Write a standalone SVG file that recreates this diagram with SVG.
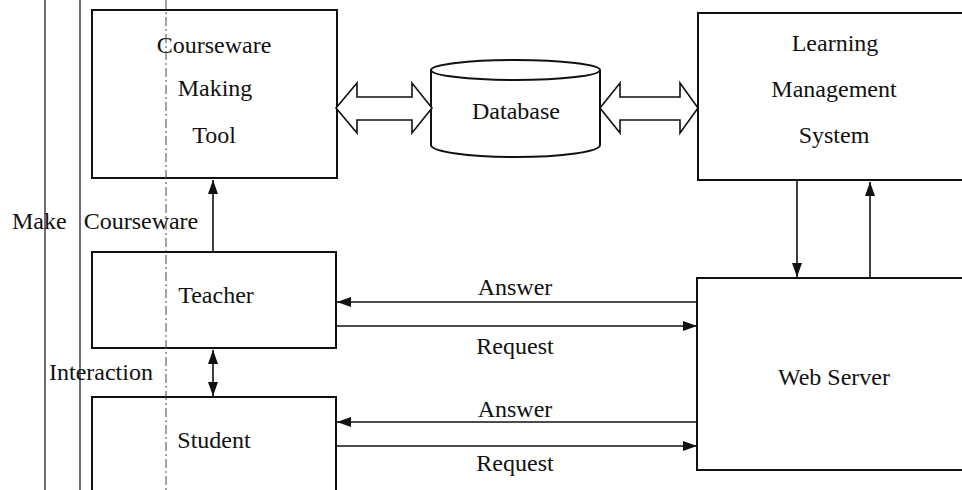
<svg xmlns="http://www.w3.org/2000/svg" width="962" height="490" viewBox="0 0 962 490">
<style>
  .box { fill: #fff; stroke: #111; stroke-width: 2; }
  .lbl { font-family: "Liberation Serif", "Times New Roman", serif; font-size: 24px; fill: #111; text-anchor: middle; }
  .lft { text-anchor: start; }
  .conn { stroke: #111; stroke-width: 1.6; fill: none; }
  .hollow { fill: #fff; stroke: #111; stroke-width: 1.6; stroke-linejoin: miter; }
  .scan { stroke: #222; stroke-width: 1.3; fill: none; }
  .dash { stroke: #444; stroke-width: 1; stroke-dasharray: 9 3 2 3; fill: none; }
</style>
<defs>
  <marker id="ah" markerUnits="userSpaceOnUse" markerWidth="16" markerHeight="12" refX="14" refY="5" orient="auto-start-reverse">
    <path d="M0,0 L14,5 L0,10 z" fill="#111"/>
  </marker>
</defs>
<rect width="962" height="490" fill="#fff"/>

<g id="page-lines">
  <line class="scan" x1="45" y1="0" x2="45" y2="490"/>
  <line class="scan" x1="80" y1="0" x2="80" y2="490"/>
</g>

<g id="courseware-tool">
  <rect class="box" x="92" y="10" width="245" height="168"/>
  <text class="lbl" x="214" y="53">Courseware</text>
  <text class="lbl" x="215" y="96">Making</text>
  <text class="lbl" x="214" y="143">Tool</text>
</g>

<g id="database">
  <path class="box" d="M431,70 L431,145 A84.5,12 0 0 0 600,145 L600,70"/>
  <ellipse class="box" cx="515.5" cy="70" rx="84.5" ry="10"/>
  <text class="lbl" x="516" y="119">Database</text>
</g>

<g id="lms">
  <rect class="box" x="698" y="13" width="280" height="167"/>
  <text class="lbl" x="835" y="51">Learning</text>
  <text class="lbl" x="834" y="97">Management</text>
  <text class="lbl" x="834" y="143">System</text>
</g>

<g id="teacher">
  <rect class="box" x="92" y="252" width="244" height="96"/>
  <text class="lbl" x="216" y="303">Teacher</text>
</g>

<g id="student">
  <rect class="box" x="92" y="397" width="244" height="110"/>
  <text class="lbl" x="214" y="448">Student</text>
</g>

<g id="web-server">
  <rect class="box" x="697" y="278" width="280" height="192"/>
  <text class="lbl" x="834" y="385">Web Server</text>
</g>

<g id="connectors">
  <path class="hollow" d="M336,108 L357,83 L357,97 L412,97 L412,83 L432,108 L412,133 L412,120 L357,120 L357,133 Z"/>
  <path class="hollow" d="M600,108 L620,83 L620,97 L680,97 L680,83 L698,108 L680,133 L680,120 L620,120 L620,133 Z"/>
  <line class="conn" x1="797" y1="180" x2="797" y2="277" marker-end="url(#ah)"/>
  <line class="conn" x1="870" y1="278" x2="870" y2="182" marker-end="url(#ah)"/>
  <line class="conn" x1="213" y1="252" x2="213" y2="180" marker-end="url(#ah)"/>
  <line class="conn" x1="213" y1="350" x2="213" y2="396" marker-start="url(#ah)" marker-end="url(#ah)"/>
  <line class="conn" x1="697" y1="302" x2="337" y2="302" marker-end="url(#ah)"/>
  <line class="conn" x1="337" y1="326" x2="697" y2="326" marker-end="url(#ah)"/>
  <line class="conn" x1="697" y1="422" x2="337" y2="422" marker-end="url(#ah)"/>
  <line class="conn" x1="337" y1="446" x2="697" y2="446" marker-end="url(#ah)"/>
  <text class="lbl" x="515" y="295">Answer</text>
  <text class="lbl" x="515" y="354">Request</text>
  <text class="lbl" x="515" y="417">Answer</text>
  <text class="lbl" x="515" y="471">Request</text>
  <text class="lbl lft" x="12" y="229" word-spacing="11">Make Courseware</text>
  <text class="lbl lft" x="49" y="380">Interaction</text>
</g>

<g id="guide-line">
  <line class="dash" x1="166" y1="0" x2="166" y2="490"/>
</g>
</svg>
